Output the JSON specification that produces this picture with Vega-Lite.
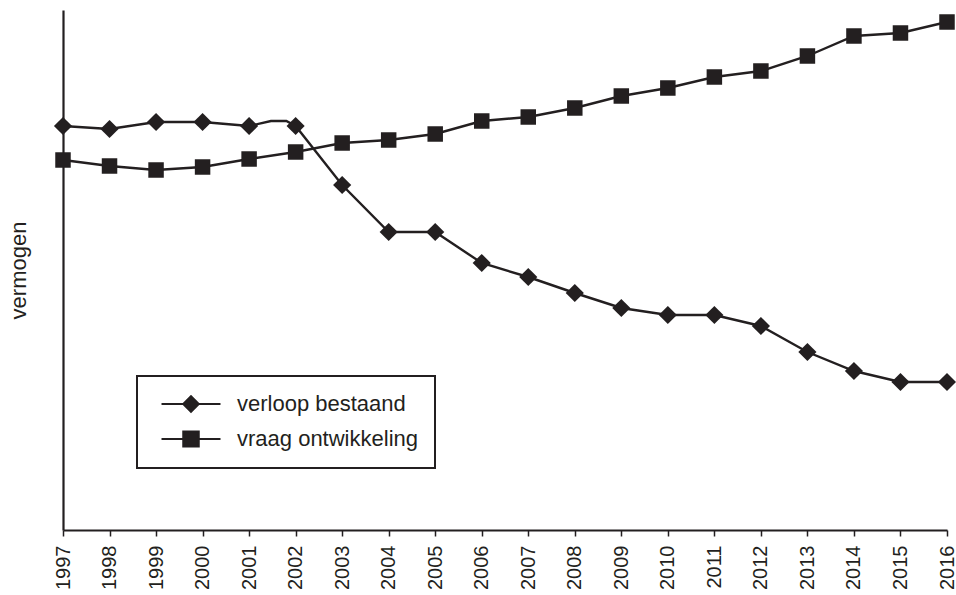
{
  "$schema": "https://vega.github.io/schema/vega-lite/v6.json",
  "autosize": {"type": "none"},
  "width": 884,
  "height": 520,
  "padding": {"left": 63, "top": 10, "right": 9, "bottom": 65},
  "background": "#ffffff",
  "config": {
    "view": {"stroke": null},
    "font": "Liberation Sans",
    "axis": {"labelFont": "Liberation Sans", "titleFont": "Liberation Sans", "labelColor": "#231f20", "titleColor": "#231f20"},
    "legend": {"labelFont": "Liberation Sans"}
  },
  "data": {
    "values": [
      {"year": 1997, "value": 404, "series": "verloop bestaand", "marker": true},
      {"year": 1998, "value": 401, "series": "verloop bestaand", "marker": true},
      {"year": 1999, "value": 408, "series": "verloop bestaand", "marker": true},
      {"year": 2000, "value": 408, "series": "verloop bestaand", "marker": true},
      {"year": 2001, "value": 404, "series": "verloop bestaand", "marker": true},
      {"year": 2001.47, "value": 409, "series": "verloop bestaand", "marker": false},
      {"year": 2001.8, "value": 409, "series": "verloop bestaand", "marker": false},
      {"year": 2002, "value": 404, "series": "verloop bestaand", "marker": true},
      {"year": 2003, "value": 345, "series": "verloop bestaand", "marker": true},
      {"year": 2004, "value": 298, "series": "verloop bestaand", "marker": true},
      {"year": 2005, "value": 298, "series": "verloop bestaand", "marker": true},
      {"year": 2006, "value": 267, "series": "verloop bestaand", "marker": true},
      {"year": 2007, "value": 253, "series": "verloop bestaand", "marker": true},
      {"year": 2008, "value": 237, "series": "verloop bestaand", "marker": true},
      {"year": 2009, "value": 222, "series": "verloop bestaand", "marker": true},
      {"year": 2010, "value": 215, "series": "verloop bestaand", "marker": true},
      {"year": 2011, "value": 215, "series": "verloop bestaand", "marker": true},
      {"year": 2012, "value": 204, "series": "verloop bestaand", "marker": true},
      {"year": 2013, "value": 178, "series": "verloop bestaand", "marker": true},
      {"year": 2014, "value": 159, "series": "verloop bestaand", "marker": true},
      {"year": 2015, "value": 148, "series": "verloop bestaand", "marker": true},
      {"year": 2016, "value": 148, "series": "verloop bestaand", "marker": true},
      {"year": 1997, "value": 370, "series": "vraag ontwikkeling", "marker": true},
      {"year": 1998, "value": 364, "series": "vraag ontwikkeling", "marker": true},
      {"year": 1999, "value": 360, "series": "vraag ontwikkeling", "marker": true},
      {"year": 2000, "value": 363, "series": "vraag ontwikkeling", "marker": true},
      {"year": 2001, "value": 371, "series": "vraag ontwikkeling", "marker": true},
      {"year": 2002, "value": 378, "series": "vraag ontwikkeling", "marker": true},
      {"year": 2003, "value": 387, "series": "vraag ontwikkeling", "marker": true},
      {"year": 2004, "value": 390, "series": "vraag ontwikkeling", "marker": true},
      {"year": 2005, "value": 396, "series": "vraag ontwikkeling", "marker": true},
      {"year": 2006, "value": 409, "series": "vraag ontwikkeling", "marker": true},
      {"year": 2007, "value": 413, "series": "vraag ontwikkeling", "marker": true},
      {"year": 2008, "value": 422, "series": "vraag ontwikkeling", "marker": true},
      {"year": 2009, "value": 434, "series": "vraag ontwikkeling", "marker": true},
      {"year": 2010, "value": 442, "series": "vraag ontwikkeling", "marker": true},
      {"year": 2011, "value": 453, "series": "vraag ontwikkeling", "marker": true},
      {"year": 2012, "value": 459, "series": "vraag ontwikkeling", "marker": true},
      {"year": 2013, "value": 474, "series": "vraag ontwikkeling", "marker": true},
      {"year": 2014, "value": 494, "series": "vraag ontwikkeling", "marker": true},
      {"year": 2015, "value": 497, "series": "vraag ontwikkeling", "marker": true},
      {"year": 2016, "value": 508, "series": "vraag ontwikkeling", "marker": true}
    ]
  },
  "encoding": {
    "x": {
      "field": "year",
      "type": "quantitative",
      "scale": {"domain": [1997, 2016], "nice": false, "zero": false},
      "axis": {
        "title": null,
        "values": [1997, 1998, 1999, 2000, 2001, 2002, 2003, 2004, 2005, 2006, 2007, 2008, 2009, 2010, 2011, 2012, 2013, 2014, 2015, 2016],
        "format": "d",
        "labelAngle": -90,
        "labelFontSize": 20,
        "labelPadding": 9,
        "labelOverlap": false,
        "grid": false,
        "domainColor": "#231f20",
        "domainWidth": 2.2,
        "tickColor": "#231f20",
        "tickWidth": 1.5,
        "tickSize": 6
      }
    },
    "y": {
      "field": "value",
      "type": "quantitative",
      "scale": {"domain": [0, 520], "nice": false, "zero": false},
      "axis": {
        "title": "vermogen",
        "titleFontSize": 22,
        "titleFontWeight": "normal",
        "titlePadding": 33,
        "labels": false,
        "ticks": false,
        "grid": false,
        "domainColor": "#231f20",
        "domainWidth": 2.2
      }
    }
  },
  "layer": [
    {
      "mark": {"type": "line", "strokeWidth": 2.4, "color": "#231f20"},
      "encoding": {
        "color": {
          "field": "series",
          "type": "nominal",
          "scale": {"domain": ["verloop bestaand", "vraag ontwikkeling"], "range": ["#231f20", "#231f20"]},
          "legend": {
            "title": null,
            "orient": "none",
            "legendX": 74,
            "legendY": 366,
            "padding": 17,
            "strokeColor": "#231f20",
            "labelFontSize": 22,
            "labelColor": "#231f20",
            "labelOffset": 61,
            "labelLimit": 0,
            "rowPadding": 10,
            "symbolSize": 289,
            "symbolStrokeWidth": 2.2,
            "encode": {
              "legend": {
                "update": {
                  "strokeWidth": {"value": 2}
                }
              },
              "symbols": {
                "update": {
                  "x": {"value": 37},
                  "shape": {"signal": "datum.value === 'verloop bestaand' ? 'M-3.47,0L3.47,0M-0.9,0L0,-0.9L0.9,0L0,0.9Z' : 'M-3.47,0L3.47,0M-0.9,-0.88L0.9,-0.88L0.9,0.88L-0.9,0.88Z'"},
                  "fill": {"value": "#231f20"},
                  "stroke": {"value": "#231f20"},
                  "opacity": {"value": 1}
                }
              }
            }
          }
        }
      }
    },
    {
      "transform": [{"filter": "datum.marker && datum.series === 'verloop bestaand'"}],
      "mark": {"type": "point", "shape": "diamond", "filled": true, "opacity": 1, "color": "#231f20", "size": 330}
    },
    {
      "transform": [{"filter": "datum.marker && datum.series === 'vraag ontwikkeling'"}],
      "mark": {"type": "point", "shape": "square", "filled": true, "opacity": 1, "color": "#231f20", "size": 240}
    }
  ]
}
